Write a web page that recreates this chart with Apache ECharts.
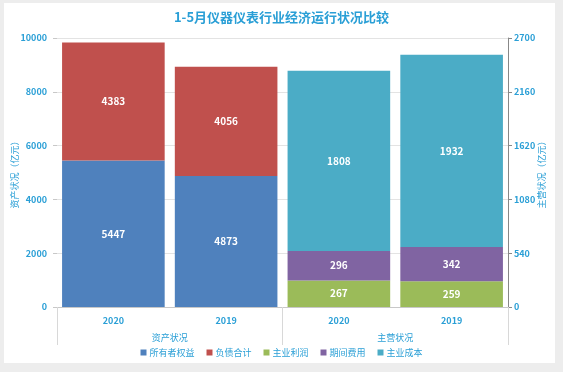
<!DOCTYPE html>
<html><head><meta charset="utf-8">
<script src="https://cdn.jsdelivr.net/npm/echarts@6/dist/echarts.min.js"></script>
<style>html,body{margin:0;padding:0;background:#fff}#c{width:563px;height:372px}</style>
</head><body><div id="c"></div>
<script>
var years = ['2020', '2019', '2020', '2019'];
var groups = ['资产状况', '主营状况'];
var ownerEquity = [5447, 4873, null, null];
var liabilities = [4383, 4056, null, null];
var mainProfit = [null, null, 267, 259];
var periodExpense = [null, null, 296, 342];
var mainCost = [null, null, 1808, 1932];
var leftTicks = {min: 0, max: 10000, interval: 2000};
var rightTicks = {min: 0, max: 2700, interval: 540};

var txt = '#2a9fd6';
var font = '"Noto Sans CJK SC", "Open Sans", sans-serif';
var chart = echarts.init(document.getElementById('c'));
function lbl() {
  return {show: true, position: 'inside', color: '#fff', fontWeight: 'bold', fontSize: 10, fontFamily: font};
}
function plain(v) { return String(v); }
chart.setOption({
  backgroundColor: '#ededed',
  animation: false,
  textStyle: {fontFamily: font},
  graphic: [{type: 'rect', shape: {x: 4, y: 3, width: 551, height: 360}, style: {fill: '#fff'}, z: -10, silent: true}],
  title: {text: '1-5月仪器仪表行业经济运行状况比较', left: 'center', top: 6,
    textStyle: {color: txt, fontSize: 13, fontWeight: 'bold', fontFamily: font}},
  legend: {bottom: 10, left: 'center', itemWidth: 6, itemHeight: 6, itemGap: 12, icon: 'rect',
    textStyle: {color: txt, fontSize: 9, fontFamily: font, padding: [0, 0, 0, -2]},
    data: ['所有者权益', '负债合计', '主业利润', '期间费用', '主业成本']},
  grid: {left: 57, right: 55, top: 38, bottom: 65, containLabel: false, outerBoundsMode: 'none'},
  xAxis: [
    {type: 'category', data: years, position: 'bottom',
      axisLine: {lineStyle: {color: '#c8c8c8'}}, axisTick: {show: false},
      axisLabel: {color: txt, fontSize: 9, fontWeight: 'bold', margin: 9}},
    {type: 'category', data: groups, position: 'bottom', offset: 0,
      axisLine: {show: false},
      axisTick: {show: true, length: 38, lineStyle: {color: '#d8d8d8'}},
      axisLabel: {color: txt, fontSize: 9, margin: 26}}
  ],
  yAxis: [
    {type: 'value', min: leftTicks.min, max: leftTicks.max, interval: leftTicks.interval,
      name: '资产状况（亿元）', nameLocation: 'middle', nameGap: 38, nameMoveOverlap: false,
      nameTextStyle: {color: txt, fontSize: 9},
      axisLine: {show: false}, axisTick: {show: true, length: 4, lineStyle: {color: '#c8c8c8'}},
      axisLabel: {color: txt, fontSize: 9, fontWeight: 'bold', margin: 10, formatter: plain},
      splitLine: {lineStyle: {color: '#e3e3e3'}}},
    {type: 'value', min: rightTicks.min, max: rightTicks.max, interval: rightTicks.interval,
      name: '主营状况（亿元）', nameLocation: 'middle', nameGap: 29, nameMoveOverlap: false,
      nameTextStyle: {color: txt, fontSize: 9},
      axisLine: {show: true, lineStyle: {color: '#888'}}, axisTick: {show: true, length: 4, lineStyle: {color: '#888'}},
      axisLabel: {color: txt, fontSize: 9, fontWeight: 'bold', margin: 6, formatter: plain},
      splitLine: {show: false}}
  ],
  series: [
    {name: '所有者权益', type: 'bar', stack: 'a', yAxisIndex: 0, data: ownerEquity, itemStyle: {color: '#4f81bd'}, label: lbl(), barCategoryGap: '9%', barGap: '-100%'},
    {name: '负债合计', type: 'bar', stack: 'a', yAxisIndex: 0, data: liabilities, itemStyle: {color: '#c0504d'}, label: lbl(), barCategoryGap: '9%', barGap: '-100%'},
    {name: '主业利润', type: 'bar', stack: 'b', yAxisIndex: 1, data: mainProfit, itemStyle: {color: '#9bbb59'}, label: lbl(), barCategoryGap: '9%', barGap: '-100%'},
    {name: '期间费用', type: 'bar', stack: 'b', yAxisIndex: 1, data: periodExpense, itemStyle: {color: '#8064a2'}, label: lbl(), barCategoryGap: '9%', barGap: '-100%'},
    {name: '主业成本', type: 'bar', stack: 'b', yAxisIndex: 1, data: mainCost, itemStyle: {color: '#4bacc6'}, label: lbl(), barCategoryGap: '9%', barGap: '-100%'}
  ]
});
</script></body></html>
